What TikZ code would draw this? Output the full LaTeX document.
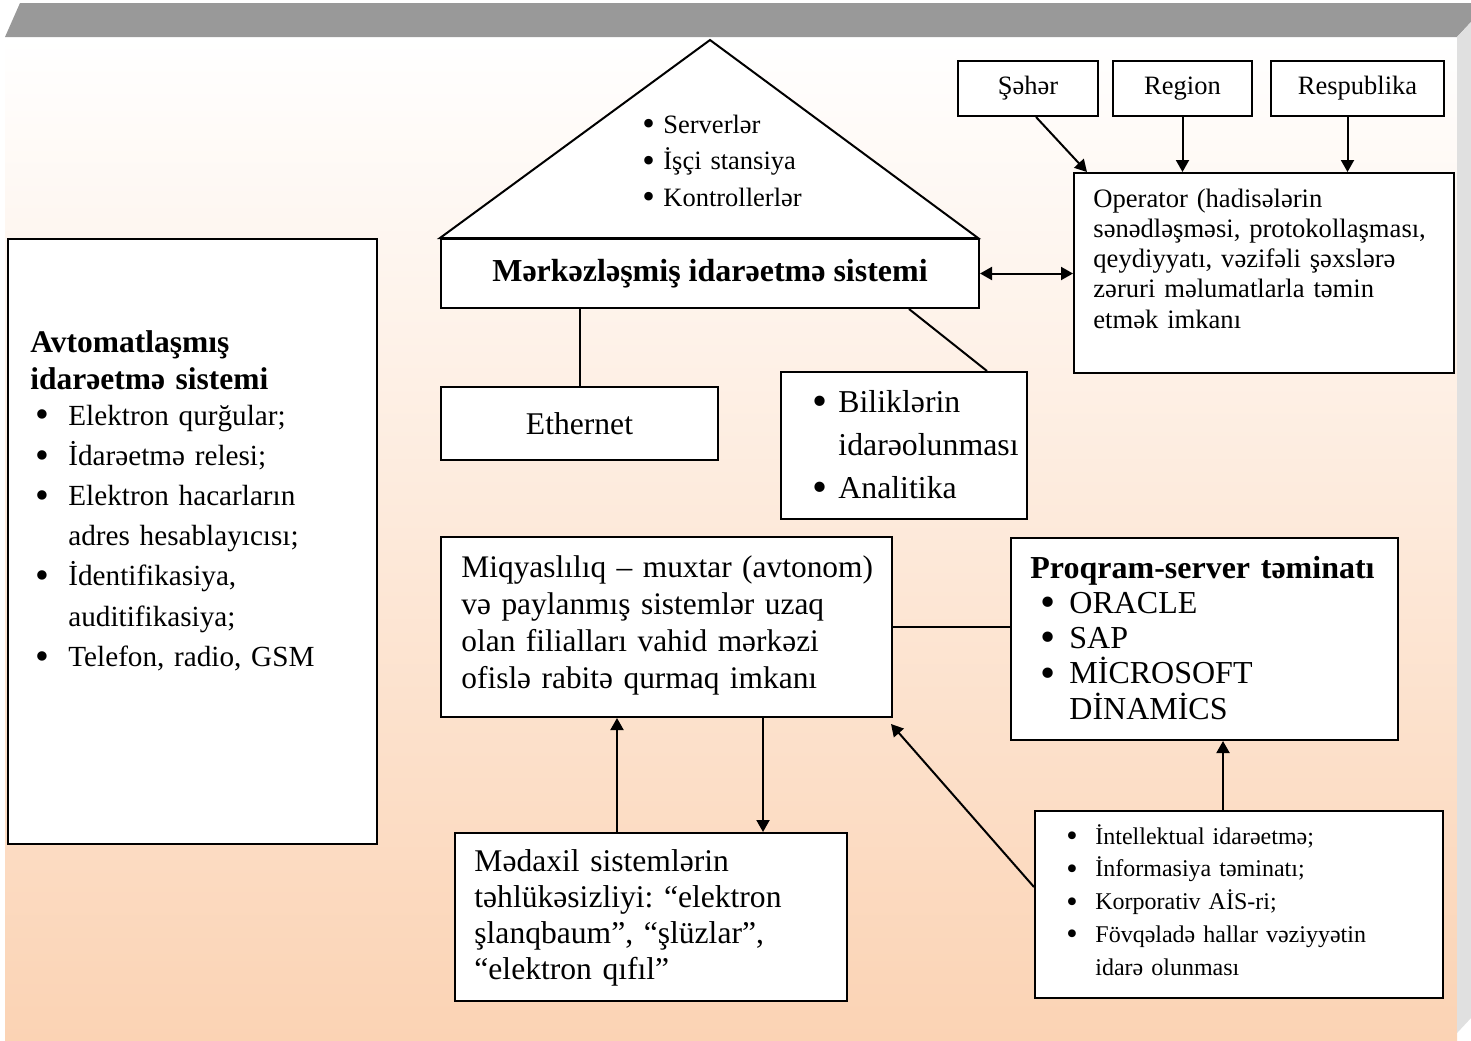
\documentclass[tikz,border=0pt]{standalone}
\usepackage{fontspec}
\setmainfont{Liberation Serif}
\frenchspacing
\usetikzlibrary{arrows.meta,positioning}
\definecolor{peach}{RGB}{251,211,180}
\definecolor{bandgray}{RGB}{153,153,153}
\definecolor{sidegray}{RGB}{224,224,224}
\newcommand{\bigdot}{\raisebox{-0.1em}{\scalebox{1.35}{\textbullet}}}
\newcommand{\itm}[1]{\makebox[#1][l]{\bigdot}}
\newcommand{\ind}[1]{\hspace*{#1}}
\tikzset{
  box/.style={draw,line width=1pt,fill=white,inner sep=0pt,anchor=north west},
  txt/.style={anchor=base west,inner sep=0pt,text width=#1,align=left},
  txt/.default=260pt,
  link/.style={line width=1pt}
}
\begin{document}
\begin{tikzpicture}[x=0.5pt,y=-0.5pt,>={Triangle[length=6pt,width=6.5pt]}]
    \useasboundingbox (0,0) rectangle (1471,1040);
    \shade[top color=white,bottom color=peach] (5,37) rectangle (1457,1040);
    \fill[bandgray] (20,3) -- (1471,3) -- (1471,22) -- (1457,37) -- (5,37) -- cycle;
    \fill[sidegray] (1457,37) -- (1471,22) -- (1471,1018) -- (1457,1033) -- cycle;

    \node[box,minimum width=184.5pt,minimum height=302.5pt] (avto) at (7,238) {};
    \draw[link,fill=white] (440,238) -- (710,40) -- (978,238) -- cycle;
    \node[box,minimum width=269pt,minimum height=34.5pt,font=\bfseries\fontsize{16pt}{19pt}\selectfont] (merk) at (440,238) {Mərkəzləşmiş idarəetmə sistemi};
    \node[box,minimum width=70pt,minimum height=27.5pt,font=\fontsize{13.25pt}{16pt}\selectfont] (seher) at (957,60) {Şəhər};
    \node[box,minimum width=69.5pt,minimum height=27.5pt,font=\fontsize{13.25pt}{16pt}\selectfont] (region) at (1112,60) {Region};
    \node[box,minimum width=86.5pt,minimum height=27.5pt,font=\fontsize{13.25pt}{16pt}\selectfont] (resp) at (1270,60) {Respublika};
    \node[box,minimum width=190pt,minimum height=100pt] (oper) at (1073,172) {};
    \node[box,minimum width=138.5pt,minimum height=36.5pt,font=\fontsize{15.8pt}{19pt}\selectfont] (eth) at (440,386) {Ethernet};
    \node[box,minimum width=123pt,minimum height=73.5pt] (bilik) at (780,371) {};
    \node[box,minimum width=225.5pt,minimum height=90pt] (miqyas) at (440,536) {};
    \node[box,minimum width=193.5pt,minimum height=101pt] (proq) at (1010,537) {};
    \node[box,minimum width=196pt,minimum height=84pt] (medaxil) at (454,832) {};
    \node[box,minimum width=204pt,minimum height=93.5pt] (rb) at (1034,810) {};

    \node[txt,font=\bfseries\fontsize{15.75pt}{18.5pt}\selectfont] (avtoT) at (30,352) {Avtomatlaşmış\\idarəetmə sistemi};
    \node[txt,font=\fontsize{14.6pt}{20.1pt}\selectfont] (avtoL) at (35,425) {\itm{16.5pt}Elektron qurğular;\\\itm{16.5pt}İdarəetmə relesi;\\\itm{16.5pt}Elektron hacarların\\\ind{16.5pt}adres hesablayıcısı;\\\itm{16.5pt}İdentifikasiya,\\\ind{16.5pt}auditifikasiya;\\\itm{16.5pt}Telefon, radio, GSM};
    \node[txt,font=\fontsize{13.25pt}{18.25pt}\selectfont] (roofT) at (642,133) {\itm{10.5pt}Serverlər\\\itm{10.5pt}İşçi stansiya\\\itm{10.5pt}Kontrollerlər};
    \node[txt,font=\fontsize{13.3pt}{15.15pt}\selectfont] (operT) at (1093,207) {Operator (hadisələrin\\sənədləşməsi, protokollaşması,\\qeydiyyatı, vəzifəli şəxslərə\\zəruri məlumatlarla təmin\\etmək imkanı};
    \node[txt,font=\fontsize{15.9pt}{21.5pt}\selectfont] (bilikT) at (812,412) {\itm{13pt}Biliklərin\\\ind{13pt}idarəolunması\\\itm{13pt}Analitika};
    \node[txt,font=\fontsize{15.7pt}{18.65pt}\selectfont] (miqyasT) at (461,577) {Miqyaslılıq -- muxtar (avtonom)\\və paylanmış sistemlər uzaq\\olan filialları vahid mərkəzi\\ofislə rabitə qurmaq imkanı};
    \node[txt,font=\fontsize{16pt}{17.65pt}\selectfont] (proqT) at (1030,578) {\textbf{Proqram-server təminatı}\\\ind{5pt}\itm{14.5pt}ORACLE\\\ind{5pt}\itm{14.5pt}SAP\\\ind{5pt}\itm{14.5pt}MİCROSOFT\\\ind{19.5pt}DİNAMİCS};
    \node[txt,font=\fontsize{15.8pt}{18.15pt}\selectfont] (medaxilT) at (474,871) {Mədaxil sistemlərin\\təhlükəsizliyi: “elektron\\şlanqbaum”, “şlüzlar”,\\“elektron qıfıl”};
    \node[txt,font=\fontsize{12pt}{16.4pt}\selectfont] (rbT) at (1066,844) {\itm{14.5pt}İntellektual idarəetmə;\\\itm{14.5pt}İnformasiya təminatı;\\\itm{14.5pt}Korporativ AİS-ri;\\\itm{14.5pt}Fövqəladə hallar vəziyyətin\\\ind{14.5pt}idarə olunması};

    \coordinate (respS) at ([xshift=-5pt]resp.south);
    \coordinate (upM) at ([xshift=81.5pt]medaxil.north west);
    \coordinate (dnM) at ([xshift=154.5pt]medaxil.north west);
    \coordinate (upP) at ([xshift=-8pt]rb.north);
    \draw[<->,link] (merk.east) -- (merk.east -| oper.west);
    \draw[->,link] ([xshift=4pt]seher.south) -- ([xshift=7pt]oper.north west);
    \draw[->,link] (region.south) -- (region.south |- oper.north);
    \draw[->,link] (respS) -- (respS |- oper.north);
    \draw[link] (merk.south -| eth.north) -- (eth.north);
    \draw[link] ([xshift=-35.5pt]merk.south east) -- ([xshift=-20.5pt]bilik.north east);
    \draw[link] (miqyas.east) -- (miqyas.east -| proq.west);
    \draw[->,link] (upM) -- (upM |- miqyas.south);
    \draw[->,link] (dnM |- miqyas.south) -- (dnM);
    \draw[->,link] (upP) -- (upP |- proq.south);
    \draw[->,link] ([yshift=-38.5pt]rb.north west) -- ([xshift=-1pt,yshift=-3pt]miqyas.south east);
\end{tikzpicture}
\end{document}
